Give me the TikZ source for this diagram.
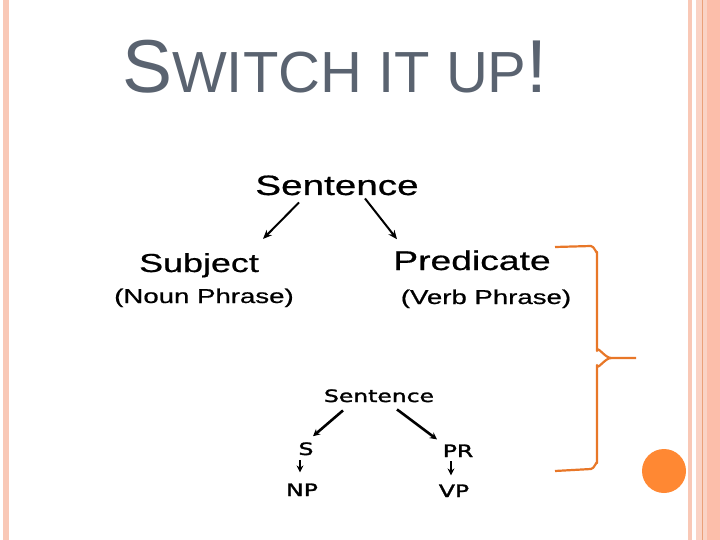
\documentclass[tikz,border=0pt]{standalone}
\usepackage{fontspec}
\setmainfont{Liberation Sans}
\newfontfamily\treefont[FakeBold=0.6]{Liberation Sans}
\newfontfamily\handfont[FakeBold=1.6]{DejaVu Sans}
\usepackage{tikz}
\usetikzlibrary{arrows.meta}
\definecolor{titlegray}{RGB}{90, 99, 112}
\definecolor{stripepink}{RGB}{249, 200, 182}
\definecolor{stripeline}{RGB}{235, 160, 120}
\definecolor{stripedeep}{RGB}{252, 190, 170}
\definecolor{braceorange}{RGB}{232, 119, 40}
\definecolor{dotorange}{RGB}{255, 136, 51}

\tikzset{
  wordnode/.style={inner sep=0pt, anchor=base, xscale=1.38, transform shape},
  treearrow/.style={-{Stealth[length=9pt, width=7.5pt]}, black, line width=2pt},
  handarrow/.style={-{Stealth[length=7pt, width=7pt]}, black, line width=2.6pt}
}

\begin{document}
\begin{tikzpicture}[x=1pt, y=-1pt]
			\useasboundingbox (0,0) rectangle (720,540);
			\fill[white] (0,0) rectangle (720,540);

			% --- border stripes ---
			\fill[stripepink] (3,0) rectangle (9,540);
			\fill[stripepink] (688,0) rectangle (692,540);
			\fill[stripepink!80] (696,0) rectangle (720,540);
			\fill[stripedeep] (707,0) rectangle (720,540);
			\draw[stripeline, line width=1pt] (702.5,0) -- (702.5,540);

			% --- title ---
			\node[inner sep=0pt, anchor=base west, text=titlegray] (title) at (122,93)
				{\fontsize{75}{75}\selectfont S\fontsize{58}{58}\selectfont WITCH IT UP\fontsize{75}{75}\selectfont !};

			% --- upper tree ---
			\node[wordnode, font=\treefont\fontsize{28}{28}\selectfont] (sentA) at (337,195) {Sentence};
			\node[wordnode, font=\treefont\fontsize{26}{26}\selectfont] (subj) at (199,272) {Subject};
			\node[wordnode, font=\treefont\fontsize{27}{27}\selectfont] (pred) at (472,270) {Predicate};
			\node[wordnode, font=\treefont\fontsize{20}{20}\selectfont] (nounph) at (204,303) {(Noun Phrase)};
			\node[wordnode, font=\treefont\fontsize{20}{20}\selectfont] (verbph) at (486,304) {(Verb Phrase)};

			\draw[treearrow] ([xshift=-38pt,yshift=-7pt]sentA.south) -- ([xshift=64pt,yshift=14pt]subj.north);
			\draw[treearrow] ([xshift=28pt,yshift=-3pt]sentA.south) -- ([xshift=-75pt,yshift=11pt]pred.north);

			% --- lower tree ---
			\node[wordnode, font=\handfont\fontsize{17}{17}\selectfont] (sentB) at (379,402) {Sentence};
			\node[wordnode, font=\handfont\fontsize{17}{17}\selectfont] (s) at (306,455) {S};
			\node[wordnode, font=\handfont\fontsize{17}{17}\selectfont] (pr) at (458,457) {PR};
			\node[wordnode, font=\handfont\fontsize{17}{17}\selectfont] (np) at (302,496) {NP};
			\node[wordnode, font=\handfont\fontsize{17}{17}\selectfont] (vp) at (454,497) {VP};

			\draw[handarrow] ([xshift=-36pt,yshift=-8pt]sentB.south) -- ([xshift=7pt,yshift=6pt]s.north);
			\draw[handarrow] ([xshift=18pt,yshift=-7pt]sentB.south) -- ([xshift=-21pt,yshift=5pt]pr.north);
			\draw[handarrow] ([xshift=-6pt,yshift=-5pt]s.south) -- ([xshift=-2pt,yshift=11pt]np.north);
			\draw[handarrow] ([xshift=-7pt,yshift=-4pt]pr.south) -- ([xshift=-3pt,yshift=9pt]vp.north);

			% --- brace ---
			\draw[braceorange, line width=2.2pt, line join=round]
				(555,247) -- (591,246) to[out=0,in=-90] (597,252) -- (597,351)
				to[out=90,in=180] (611,358) -- (636,358);
			\draw[braceorange, line width=2.2pt, line join=round]
				(611,358) to[out=180,in=-90] (597,365) -- (597,463)
				to[out=90,in=0] (591,469) -- (555,471);

			% --- dot ---
			\fill[dotorange] (664,471) circle (22);

		\end{tikzpicture}
\end{document}
